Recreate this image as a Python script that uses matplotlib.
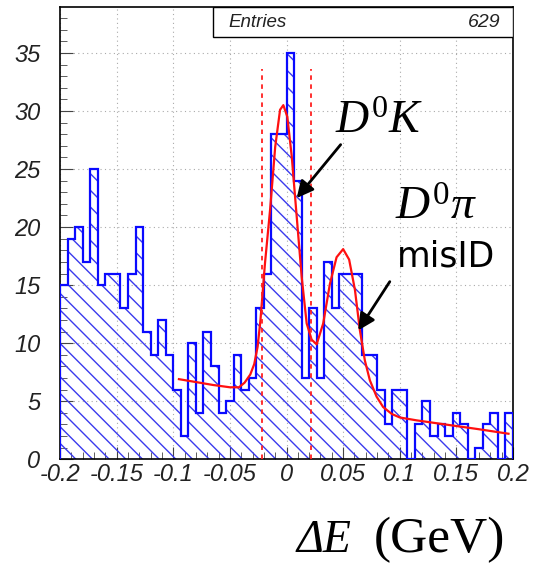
import numpy as np
import matplotlib.pyplot as plt
from matplotlib.patches import Rectangle
from matplotlib.ticker import AutoMinorLocator

plt.rcParams['mathtext.fontset'] = 'custom'
plt.rcParams['mathtext.rm'] = 'Liberation Serif'
plt.rcParams['mathtext.it'] = 'Liberation Serif:italic'
plt.rcParams['hatch.linewidth'] = 1.0

# dE histogram, 60 bins from -0.2 to 0.2 GeV
e_lo, e_hi, nbins = -0.2, 0.2, 60
counts = [15, 19, 20, 17, 25, 15, 16, 16, 13, 16,
          20, 11, 9, 12, 9, 6, 2, 10, 4, 11,
          8, 4, 5, 9, 6, 7, 13, 16, 28, 28,
          35, 24, 7, 13, 7, 17, 13, 16, 16, 16,
          9, 9, 6, 3, 6, 6, 0, 3, 5, 2,
          3, 2, 4, 3, 0, 1, 3, 4, 0, 4]
entries = 629

# fit curve
fit_x = [-0.095, -0.08, -0.065, -0.05, -0.042, -0.037, -0.032, -0.0285, -0.0255,
         -0.023, -0.019, -0.0145, -0.010, -0.0057, -0.0028, 0.0007, 0.0046, 0.009,
         0.0134, 0.0178, 0.0222, 0.0266, 0.0324, 0.0383, 0.0442, 0.050, 0.0553,
         0.0604, 0.0648, 0.0692, 0.0736, 0.0795, 0.0853, 0.093, 0.100, 0.115,
         0.140, 0.169, 0.196]
fit_y = [6.9, 6.65, 6.4, 6.2, 6.2, 6.6, 7.3, 8.2, 9.7,
         12.0, 16.9, 21.5, 26.9, 30.1, 30.5, 29.5, 26.1, 20.9,
         15.7, 11.7, 10.3, 9.9, 11.7, 15.1, 17.4, 18.1, 17.2,
         14.6, 11.1, 8.5, 6.8, 5.4, 4.5, 3.9, 3.6, 3.35,
         3.0, 2.6, 2.2]

# signal window
cuts = [-0.022, 0.022]
cut_top = 33.6

xticks = [-0.2, -0.15, -0.1, -0.05, 0, 0.05, 0.1, 0.15, 0.2]
xtick_labels = ['-0.2', '-0.15', '-0.1', '-0.05', '0', '0.05', '0.1', '0.15', '0.2']
yticks = [0, 5, 10, 15, 20, 25, 30, 35]

edges = np.linspace(e_lo, e_hi, nbins + 1)

fig = plt.figure(figsize=(5.34, 5.67), dpi=100)
ax = fig.add_axes([0.1124, 0.19, 0.8483, 0.7982])

ax.stairs(counts, edges, fill=True, facecolor='none', edgecolor='#3a3aee',
          hatch='\\\\', lw=0, zorder=2)
ax.stairs(counts, edges, baseline=0, color='#0a0aff', lw=1.6, zorder=3)
ax.plot(fit_x, fit_y, color='#ff1010', lw=1.6, zorder=4)
ax.vlines(cuts, 0, cut_top, colors='#ff2020', linestyles=(0, (2.5, 2.5)), lw=1.3, zorder=4)

ax.set_xlim(e_lo, e_hi)
ax.set_ylim(0, 38.98)
ax.set_xticks(xticks)
ax.set_xticklabels(xtick_labels)
ax.set_yticks(yticks)
ax.xaxis.set_minor_locator(AutoMinorLocator(5))
ax.yaxis.set_minor_locator(AutoMinorLocator(5))
ax.tick_params(which='both', direction='in', top=False, right=False, color='#444444')
ax.tick_params(which='major', length=9, width=0.8)
ax.tick_params(which='minor', length=5, width=0.6)
ax.tick_params(axis='x', pad=3)
ax.tick_params(axis='y', pad=14)
for lab in ax.get_xticklabels() + ax.get_yticklabels():
    lab.set_family('Liberation Sans')
    lab.set_style('italic')
    lab.set_fontsize(17)
    lab.set_color('#222222')
ax.grid(True, color='#aaaaaa', linestyle=(0, (1, 3)), lw=0.8)
ax.set_axisbelow(True)
for sp in ax.spines.values():
    sp.set_linewidth(1.2)

# stats box
ax.add_patch(Rectangle((0.337, 0.933), 0.663, 0.067, transform=ax.transAxes,
                       facecolor='white', edgecolor='black', lw=1, zorder=5))
ax.text(0.372, 0.966, 'Entries', transform=ax.transAxes, family='Liberation Sans',
        style='italic', fontsize=13.5, va='center', color='#222222', zorder=6)
ax.text(0.972, 0.966, str(entries), transform=ax.transAxes, family='Liberation Sans',
        style='italic', fontsize=14, va='center', ha='right', color='#222222', zorder=6)

# annotations
ax.text(0.0427, 28.1, r'$D^0K$', fontsize=33, va='baseline', zorder=6)
ax.text(0.0956, 20.6, r'$D^0\pi$', fontsize=34, va='baseline', zorder=6)
ax.text(0.0974, 16.6, 'misID', family='DejaVu Sans', fontsize=25, va='baseline', zorder=6)
arrow = dict(arrowstyle='-|>', color='black', lw=2, mutation_scale=25, shrinkA=0, shrinkB=0)
ax.annotate('', xy=(0.009, 22.5), xytext=(0.0478, 27.1), arrowprops=arrow, zorder=6)
ax.annotate('', xy=(0.0633, 11.1), xytext=(0.0912, 15.3), arrowprops=arrow, zorder=6)

# axis title
fig.text(0.658, 0.027, 'ΔE', family='Liberation Serif', style='italic', fontsize=33,
         ha='right', va='baseline')
fig.text(0.945, 0.027, '(GeV)', family='Liberation Serif', fontsize=37,
         ha='right', va='baseline')

fig.savefig('out.png', dpi=100)
